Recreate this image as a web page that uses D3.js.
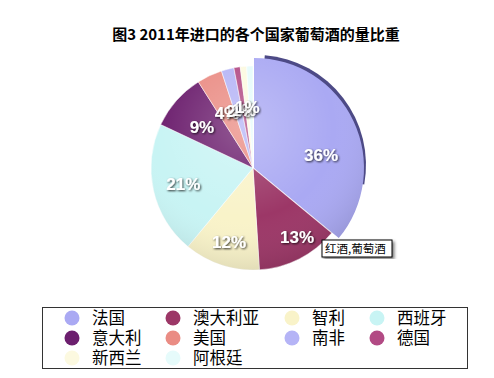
<!DOCTYPE html>
<html>
<head>
<meta charset="utf-8">
<script src="https://cdn.jsdelivr.net/npm/d3@7"></script>
<style>
  body { margin: 0; background: #fff; }
  svg { display: block; font-family: "Noto Sans CJK SC", "Liberation Sans", sans-serif; }
</style>
</head>
<body>
<svg width="494" height="378"></svg>
<script>
const countries = ["法国", "澳大利亚", "智利", "西班牙", "意大利", "美国", "南非", "德国", "新西兰", "阿根廷"];
const shares = [36, 13, 12, 21, 9, 4, 2, 1, 1, 1];
const colors = ["#aaa9f3", "#9c3767", "#f9f3c9", "#c8f4f4", "#6c1f6e", "#ea8c84", "#b5b4f6", "#b24a84", "#fcf9e0", "#e6fbfb"];
const pctLabels = ["36%", "13%", "12%", "21%", "9%", "4%", "2%", "1%", "1%", ""];

const svg = d3.select("svg");
const cx = 253, cy = 168, r = 102;

// Title
svg.append("text")
  .attr("x", 256)
  .attr("y", 40)
  .attr("text-anchor", "middle")
  .style("font-size", "15px")
  .style("font-weight", "700")
  .text("图3 2011年进口的各个国家葡萄酒的量比重");

const defs = svg.append("defs");
const shine = defs.append("radialGradient")
  .attr("id", "shine")
  .attr("gradientUnits", "userSpaceOnUse")
  .attr("cx", -10).attr("cy", -40).attr("r", 150);
shine.append("stop").attr("offset", "0%").attr("stop-color", "#fff").attr("stop-opacity", 0.25);
shine.append("stop").attr("offset", "60%").attr("stop-color", "#fff").attr("stop-opacity", 0);
shine.append("stop").attr("offset", "100%").attr("stop-color", "#000").attr("stop-opacity", 0.12);

const shadow = defs.append("filter").attr("id", "txtshadow");
shadow.append("feDropShadow")
  .attr("dx", 1).attr("dy", 1).attr("stdDeviation", 1)
  .attr("flood-color", "#000").attr("flood-opacity", 0.8);

const boxShadow = defs.append("filter").attr("id", "boxshadow");
boxShadow.append("feDropShadow")
  .attr("dx", 2).attr("dy", 2).attr("stdDeviation", 1.5)
  .attr("flood-color", "#000").attr("flood-opacity", 0.5);

const pie = d3.pie().sort(null).value(d => d)(shares);
const arc = d3.arc().innerRadius(0).outerRadius(r);
const bigArc = d3.arc().innerRadius(0).outerRadius(r + 8);

const g = svg.append("g").attr("transform", `translate(${cx},${cy})`);

// the first slice sticks out a little, with a dark rim on its upper edge
g.append("path")
  .attr("d", bigArc({ startAngle: pie[0].startAngle + 0.08, endAngle: 1.75 }))
  .attr("transform", "translate(3,-3)")
  .attr("fill", "#4d4a86");
g.append("path")
  .attr("d", bigArc(pie[0]))
  .attr("transform", "translate(1,0)")
  .attr("fill", colors[0]);

g.selectAll(".slice")
  .data(pie.slice(1))
  .enter()
  .append("path")
  .attr("class", "slice")
  .attr("d", arc)
  .attr("fill", (d, i) => colors[i + 1])
  .attr("stroke", "#fff")
  .attr("stroke-width", 0.5);

const clip = defs.append("clipPath").attr("id", "pieclip");
clip.append("circle").attr("r", r);
clip.append("path").attr("d", bigArc(pie[0])).attr("transform", "translate(1,0)");
g.append("circle")
  .attr("r", r + 10)
  .attr("fill", "url(#shine)")
  .attr("clip-path", "url(#pieclip)");

// Percent labels: radius factor and angle shift per slice
const labelK = [0.68, 0.8, 0.76, 0.7, 0.64, 0.6, 0.58, 0.58, 0.6];
const labelShift = [0.25, -0.1, 0, 0, -0.05, 0, 0, 0, 0];
g.selectAll(".pct")
  .data(pie.slice(0, 9))
  .enter()
  .append("text")
  .attr("class", "pct")
  .attr("transform", (d, i) => {
    const a = (d.startAngle + d.endAngle) / 2 + labelShift[i];
    const k = r * labelK[i];
    return `translate(${Math.sin(a) * k},${-Math.cos(a) * k})`;
  })
  .attr("text-anchor", "middle")
  .attr("dy", "0.35em")
  .attr("fill", "#fff")
  .attr("filter", "url(#txtshadow)")
  .style("font-family", "'Liberation Sans', Arial, sans-serif")
  .style("font-size", "17px")
  .style("font-weight", "700")
  .text((d, i) => pctLabels[i]);

// Tooltip
const tip = svg.append("g").attr("transform", "translate(322,240)");
tip.append("rect")
  .attr("width", 70).attr("height", 17)
  .attr("fill", "#fff")
  .attr("stroke", "#000")
  .attr("filter", "url(#boxshadow)");
tip.append("text")
  .attr("x", 3).attr("y", 13)
  .style("font-size", "11.5px")
  .text("红酒,葡萄酒");

// Legend
const legend = svg.append("g");
legend.append("rect")
  .attr("x", 42.5).attr("y", 307.5)
  .attr("width", 425).attr("height", 61)
  .attr("fill", "#fff")
  .attr("stroke", "#333");

const colCircle = [72, 173, 292, 377];
const colText = [92, 193, 312, 397];
const rowY = [318, 338, 358];

const items = legend.selectAll(".item")
  .data(countries)
  .enter()
  .append("g")
  .attr("class", "item");

items.append("circle")
  .attr("cx", (d, i) => colCircle[i % 4])
  .attr("cy", (d, i) => rowY[Math.floor(i / 4)])
  .attr("r", 7.5)
  .attr("fill", (d, i) => colors[i]);

items.append("text")
  .attr("x", (d, i) => colText[i % 4])
  .attr("y", (d, i) => rowY[Math.floor(i / 4)])
  .attr("dy", "0.36em")
  .style("font-size", "16.5px")
  .text(d => d);
</script>
</body>
</html>
